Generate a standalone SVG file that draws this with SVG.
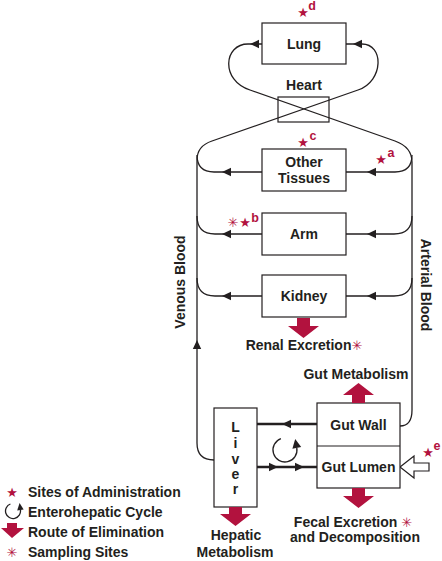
<svg xmlns="http://www.w3.org/2000/svg" xmlns:xlink="http://www.w3.org/1999/xlink" width="442" height="561" viewBox="0 0 442 561">
<style>
.t{font-family:"Liberation Sans",Arial,Helvetica,sans-serif;font-weight:bold;font-size:14px;fill:#231f20;text-anchor:middle}
.lg{font-family:"Liberation Sans",Arial,Helvetica,sans-serif;font-weight:bold;font-size:14px;fill:#231f20}
.sup{font-family:"Liberation Sans",Arial,Helvetica,sans-serif;font-weight:bold;font-size:12.5px;fill:#b2123e;text-anchor:middle}
.sym{font-family:"DejaVu Sans",sans-serif;fill:#b2123e;text-anchor:middle}
.box{fill:#fff;stroke:#231f20;stroke-width:1.2}
.ln{fill:none;stroke:#231f20;stroke-width:1.3}
.thk{fill:none;stroke:#231f20;stroke-width:2.5}
.ah{fill:#231f20}
.red{fill:#b2123e}
</style>
<defs>
<path id="ahL" class="ah" d="M0,0 L9,-4.2 L9,4.2 Z"/>
<path id="ahR" class="ah" d="M0,0 L-9,-4.2 L-9,4.2 Z"/>
<path id="ahU" class="ah" d="M0,0 L-4.2,9 L4.2,9 Z"/>
</defs>

<g id="connectors">
  <path class="ln" d="M214,460 Q197,460 197,443 L197,160 C197,150 203,144 212,141 L358,90 C384,81 384,44 362,44 L346,44"/>
  <path class="ln" d="M262,44 L248,44 C224,44 220,80 250,90 L395,141 C406,145 412,151 412,162 L412,410 Q412,426 400,426"/>
  <path class="ln" d="M197,155 Q197,172 214,172 L262,172"/>
  <path class="ln" d="M412,155 Q412,172 395,172 L346,172"/>
  <path class="ln" d="M197,216 Q197,234 215,234 L262,234"/>
  <path class="ln" d="M412,216 Q412,234 394,234 L346,234"/>
  <path class="ln" d="M197,278 Q197,296 215,296 L262,296"/>
  <path class="ln" d="M412,278 Q412,296 394,296 L346,296"/>
  <path class="thk" d="M317,424 L257,424"/>
  <path class="thk" d="M257,467 L317,467"/>
  <use xlink:href="#ahL" x="250" y="44"/>
  <use xlink:href="#ahL" x="353" y="44"/>
  <use xlink:href="#ahL" x="222" y="172"/>
  <use xlink:href="#ahL" x="367" y="172"/>
  <use xlink:href="#ahL" x="222" y="234"/>
  <use xlink:href="#ahL" x="367" y="234"/>
  <use xlink:href="#ahL" x="222" y="296"/>
  <use xlink:href="#ahL" x="367" y="296"/>
  <use xlink:href="#ahU" x="197" y="340"/>
  <use xlink:href="#ahL" x="282" y="424"/>
  <use xlink:href="#ahR" x="278" y="467"/>
  <use xlink:href="#ahR" x="304" y="467"/>
  <path class="ln" d="M280.9,438.7 A12,12 0 1 0 296.8,447.9"/>
  <path class="ah" d="M295.2,439 L301.2,447.1 L292.4,448.7 Z"/>
  <path d="M400,467 L414,456 L414,463 L429,463 L429,471 L414,471 L414,478 Z" fill="#fff" stroke="#231f20" stroke-width="1.2"/>
</g>

<g id="node-lung">
  <rect class="box" x="262" y="23" width="84" height="41"/>
  <text class="t" x="304" y="49">Lung</text>
</g>
<g id="node-heart">
  <text class="t" x="304" y="90">Heart</text>
  <rect x="278" y="97" width="51" height="25" fill="none" stroke="#231f20" stroke-width="1.2"/>
</g>
<g id="node-other-tissues">
  <rect class="box" x="262" y="149" width="84" height="42"/>
  <text class="t" x="304" y="167">Other</text>
  <text class="t" x="304" y="183">Tissues</text>
</g>
<g id="node-arm">
  <rect class="box" x="262" y="213" width="84" height="42"/>
  <text class="t" x="304" y="239">Arm</text>
</g>
<g id="node-kidney">
  <rect class="box" x="262" y="275" width="84" height="42"/>
  <text class="t" x="304" y="301">Kidney</text>
  <path class="red" d="M297,318 L310,318 L310,326 L319,326 L303.5,338 L288,326 L297,326 Z"/>
  <text class="t" x="304" y="350">Renal Excretion<tspan class="sym" font-size="13" font-weight="normal">✳</tspan></text>
</g>
<g id="node-liver">
  <rect class="box" x="214" y="408" width="43" height="99"/>
  <text class="t" x="235.5" y="432">L</text>
  <text class="t" x="235.5" y="448">i</text>
  <text class="t" x="235.5" y="464">v</text>
  <text class="t" x="235.5" y="479">e</text>
  <text class="t" x="235.5" y="494">r</text>
  <path class="red" d="M229,507 L242,507 L242,514 L251,514 L235.5,526 L220,514 L229,514 Z"/>
  <text class="t" x="236" y="540">Hepatic</text>
  <text class="t" x="235" y="557">Metabolism</text>
</g>
<g id="node-gut">
  <rect class="box" x="317" y="403" width="83" height="85"/>
  <line x1="317" y1="446" x2="400" y2="446" stroke="#231f20" stroke-width="1.2"/>
  <text class="t" x="358.5" y="430">Gut Wall</text>
  <text class="t" x="358.5" y="472">Gut Lumen</text>
  <text class="t" x="356" y="379">Gut Metabolism</text>
  <path class="red" d="M358.5,383 L374,395 L365,395 L365,403 L352,403 L352,395 L343,395 Z"/>
  <path class="red" d="M352,488 L365,488 L365,496 L374,496 L358.5,508 L343,496 L352,496 Z"/>
  <text class="t" x="353" y="527">Fecal Excretion <tspan class="sym" font-size="13" font-weight="normal">✳</tspan></text>
  <text class="t" x="355" y="542">and Decomposition</text>
</g>

<g id="labels">
  <text class="t" transform="translate(185,282) rotate(-90)">Venous Blood</text>
  <text class="t" transform="translate(421,285) rotate(90)">Arterial Blood</text>
  <text class="sym" x="303" y="16.5" font-size="13">★</text><text class="sup" x="312" y="10">d</text>
  <text class="sym" x="303" y="146.5" font-size="13">★</text><text class="sup" x="313" y="140">c</text>
  <text class="sym" x="381" y="163.5" font-size="13">★</text><text class="sup" x="391" y="157">a</text>
  <text class="sym" x="233" y="226.5" font-size="13">✳</text><text class="sym" x="245" y="226.5" font-size="13">★</text><text class="sup" x="255" y="222">b</text>
  <text class="sym" x="428" y="456.5" font-size="13">★</text><text class="sup" x="437" y="450">e</text>
</g>

<g id="legend">
  <text class="sym" x="12" y="496.5" font-size="13">★</text>
  <text class="lg" x="28" y="497">Sites of Administration</text>
  <path class="ln" d="M10.4,504 A7.5,7.5 0 1 0 20.4,509.7"/>
  <path class="ah" d="M19.6,503 L23.6,509.4 L17.2,510.4 Z"/>
  <text class="lg" x="28" y="517">Enterohepatic Cycle</text>
  <path class="red" d="M7,523 L17,523 L17,528 L24,528 L12,538 L1,528 L7,528 Z"/>
  <text class="lg" x="28" y="537">Route of Elimination</text>
  <text class="sym" x="12" y="556.5" font-size="13">✳</text>
  <text class="lg" x="28" y="557">Sampling Sites</text>
</g>
</svg>
